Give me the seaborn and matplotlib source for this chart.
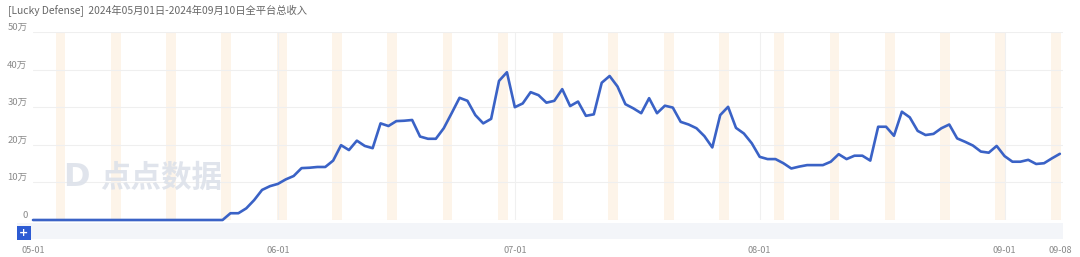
import numpy as np
import pandas as pd
import matplotlib
matplotlib.use("Agg")
import matplotlib.pyplot as plt
from matplotlib.patches import Rectangle
import seaborn as sns

# ---- data (values in 万) ----
start_date = "2024-05-01"
n_days = 131
revenue_wan = [0] * 25 + [
    1.8, 1.8, 3.1, 5.3, 8.0, 9.0, 9.6, 10.8, 11.7, 13.8,
    13.9, 14.1, 14.1, 15.8, 19.9, 18.6, 21.1, 19.7, 19.1, 25.7,
    25.0, 26.3, 26.4, 26.6, 22.2, 21.6, 21.6, 24.4, 28.4, 32.5,
    31.7, 27.9, 25.7, 26.9, 37.0, 39.3, 30.0, 31.0, 34.0, 33.2,
    31.2, 31.7, 34.8, 30.3, 31.5, 27.7, 28.1, 36.5, 38.3, 35.5,
    30.8, 29.7, 28.4, 32.4, 28.4, 30.4, 29.9, 26.1, 25.4, 24.4,
    22.3, 19.3, 27.9, 30.1, 24.5, 23.0, 20.4, 16.8, 16.2, 16.2,
    15.1, 13.7, 14.2, 14.6, 14.6, 14.6, 15.5, 17.5, 16.2, 17.1,
    17.1, 15.8, 24.8, 24.8, 22.4, 28.8, 27.3, 23.7, 22.6, 22.9,
    24.4, 25.4, 21.7, 20.8, 19.8, 18.2, 17.9, 19.7, 17.0, 15.5,
    15.5, 16.0, 14.9, 15.1, 16.4, 17.6,
]
x_tick_labels = ["05-01", "06-01", "07-01", "08-01", "09-01", "09-08"]
y_ticks = [0, 10, 20, 30, 40, 50]
title = "[Lucky Defense]  2024年05月01日-2024年09月10日全平台总收入"

dates = pd.date_range(start_date, periods=n_days, freq="D")
df = pd.DataFrame({"day": np.arange(n_days), "date": dates, "rev": revenue_wan})

sns.set_theme(style="white")
plt.rcParams["font.family"] = ["Noto Sans CJK SC", "DejaVu Sans"]

W, H = 1080, 257
fig = plt.figure(figsize=(W / 100, H / 100), dpi=100)
L, R, T, B = 33, 1063, 32, 220
ax = fig.add_axes([L / W, 1 - B / H, (R - L) / W, (B - T) / H])

# weekend bands
for d, dt in zip(df["day"], df["date"]):
    if dt.weekday() == 5:
        ax.axvspan(d - 0.15, min(d + 1.1, 130.4), color="#fdeedb", alpha=0.6, lw=0, zorder=0)

# gridlines
for yv in y_ticks:
    ax.axhline(yv, color="#efefef", lw=0.8, zorder=0.5)
tick_pos = [df.index[df["date"] == pd.Timestamp(s)][0] for s in
            ["2024-05-01", "2024-06-01", "2024-07-01", "2024-08-01", "2024-09-01", "2024-09-08"]]
for tp in tick_pos[1:5]:
    ax.axvline(tp, color="#f0f0f0", lw=0.8, zorder=0.5)

sns.lineplot(data=df, x="day", y="rev", ax=ax, color="#3a62c6", lw=1.9, zorder=3,
             clip_on=False)

ax.set_xlim(0, 130.4)
ax.set_ylim(0, 50)
for s in ax.spines.values():
    s.set_visible(False)
ax.set_xlabel("")
ax.set_ylabel("")

ax.set_yticks(y_ticks)
ax.set_yticklabels(["0" if v == 0 else f"{v}万" for v in y_ticks])
ax.tick_params(axis="y", length=0, pad=4.0, labelsize=6.8, labelcolor="#8a8a8a")
for lab in ax.get_yticklabels():
    lab.set_va("bottom")

ax.set_xticks(tick_pos)
ax.set_xticklabels(x_tick_labels)
ax.tick_params(axis="x", length=0, pad=19, labelsize=6.6, labelcolor="#8a8a8a")

# title
fig.text(8 / W, 1 - 11 / H, title, fontsize=7.4, color="#666666", va="center", ha="left")

# data zoom slider
fig.add_artist(Rectangle((17 / W, 1 - 239 / H), (R - 17) / W, 16 / H,
                         transform=fig.transFigure, facecolor="#f3f5f9", edgecolor="none"))
fig.add_artist(Rectangle((17 / W, 1 - 239.5 / H), 14 / W, 13.5 / H,
                         transform=fig.transFigure, facecolor="#2d5bd3", edgecolor="none"))
fig.text(24 / W, 1 - 232.8 / H, "+", color="white", fontsize=8, fontweight="bold",
         ha="center", va="center", family="DejaVu Sans")

# watermark
fig.text(100 / W, 1 - 178 / H, "点点数据", fontsize=22, color="#dde2ea", alpha=0.9,
         ha="left", va="center", fontweight="bold", zorder=1)
fig.text(76 / W, 1 - 177 / H, "D", fontsize=23, color="#dde2ea", alpha=0.9,
         ha="center", va="center", fontweight="bold", family="DejaVu Sans", zorder=1)

fig.savefig("out.png", dpi=100)
